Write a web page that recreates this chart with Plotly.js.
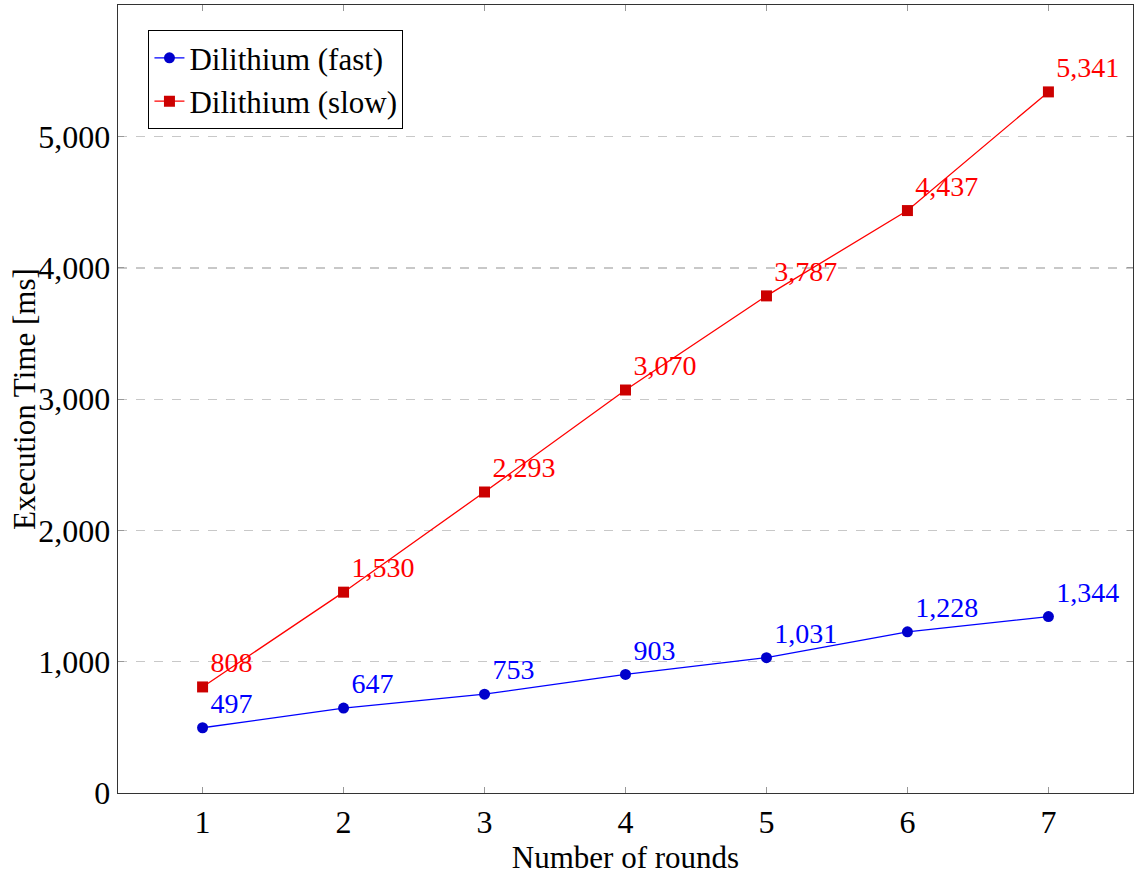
<!DOCTYPE html>
<html><head><meta charset="utf-8">
<script src="https://cdn.plot.ly/plotly-3.0.1.min.js"></script>
<style>html,body{margin:0;padding:0;background:#fff}#chart{width:1137px;height:875px}</style>
</head><body><div id="chart"></div>
<script>
const rounds = [1, 2, 3, 4, 5, 6, 7];
const fastTimes = [497, 647, 753, 903, 1031, 1228, 1344];
const slowTimes = [808, 1530, 2293, 3070, 3787, 4437, 5341];
const yTicks = [0, 1000, 2000, 3000, 4000, 5000];

const FONT = 'Liberation Serif';

const traces = [
  {
    x: rounds, y: fastTimes, name: 'Dilithium (fast)', type: 'scatter',
    mode: 'lines+markers+text', texttemplate: '%{y:,}', textposition: 'top right',
    textfont: {family: FONT, size: 28, color: '#0000ff'},
    line: {color: '#0000ff', width: 1.3},
    marker: {symbol: 'circle', size: 11, color: '#0000cc'}
  },
  {
    x: rounds, y: slowTimes, name: 'Dilithium (slow)', type: 'scatter',
    mode: 'lines+markers+text', texttemplate: '%{y:,}', textposition: 'top right',
    textfont: {family: FONT, size: 28, color: '#ff0000'},
    line: {color: '#ff0000', width: 1.3},
    marker: {symbol: 'square', size: 11, color: '#cc0000'}
  }
];

const layout = {
  width: 1137, height: 875,
  margin: {l: 118, r: 4, t: 5, b: 82},
  paper_bgcolor: '#fff', plot_bgcolor: '#fff',
  font: {family: FONT, size: 32, color: '#000'},
  showlegend: true,
  legend: {
    x: 0.03, y: 0.968, xanchor: 'left', yanchor: 'top',
    bordercolor: '#000', borderwidth: 1, bgcolor: '#fff',
    font: {family: FONT, size: 31}, tracegroupgap: 0, itemwidth: 30
  },
  xaxis: {
    range: [0.4, 7.6], tickvals: rounds, ticktext: rounds.map(String),
    ticks: 'inside', ticklen: 6, tickcolor: '#999', tickwidth: 1,
    showline: true, linecolor: '#333', linewidth: 1.3, mirror: 'ticks',
    showgrid: false, zeroline: false,
    title: {text: 'Number of rounds', font: {family: FONT, size: 31}, standoff: 10}
  },
  yaxis: {
    range: [0, 6003], tickvals: yTicks, ticktext: yTicks.map(v => v.toLocaleString('en-US')),
    ticks: 'inside', ticklen: 6, tickcolor: '#999', tickwidth: 1,
    showline: true, linecolor: '#333', linewidth: 1.3, mirror: 'ticks',
    showgrid: true, gridcolor: '#c8c8c8', griddash: 'dash', gridwidth: 1.2,
    zeroline: false
  },
  annotations: [{
    text: 'Execution Time [ms]', textangle: -90, xref: 'paper', yref: 'paper',
    x: (24 - 118) / 1015, y: 0.5, xanchor: 'center', yanchor: 'middle',
    showarrow: false, font: {family: FONT, size: 31, color: '#000'}
  }]
};

Plotly.newPlot('chart', traces, layout, {displayModeBar: false, staticPlot: true});
</script></body></html>
